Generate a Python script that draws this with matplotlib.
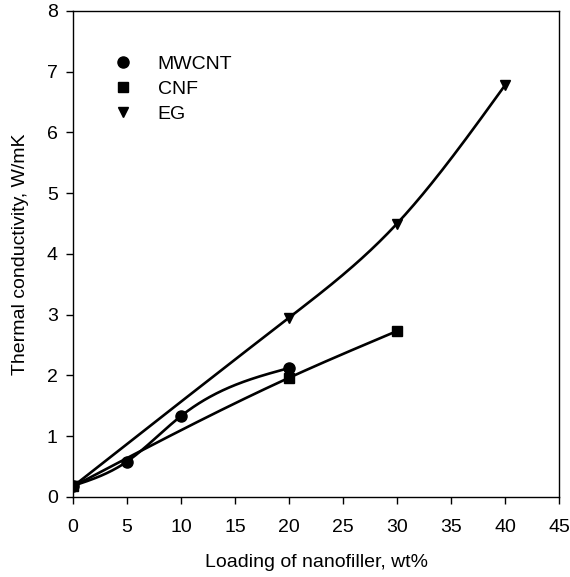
import numpy as np
import matplotlib
matplotlib.use("Agg")
import matplotlib.pyplot as plt

plt.rcParams['font.family'] = ['Liberation Sans', 'DejaVu Sans']

# data
mwcnt_x = [0, 5, 10, 20]
mwcnt_y = [0.18, 0.58, 1.33, 2.12]
cnf_x = [0, 20, 30]
cnf_y = [0.17, 1.96, 2.73]
eg_x = [0, 20, 30, 40]
eg_y = [0.17, 2.95, 4.50, 6.78]


def natural_spline(x, y, n=200):
    # plain natural cubic spline, only used to draw the smooth line
    x = np.asarray(x, float)
    y = np.asarray(y, float)
    k = len(x)
    h = np.diff(x)
    A = np.zeros((k, k))
    b = np.zeros(k)
    A[0, 0] = 1
    A[-1, -1] = 1
    for i in range(1, k - 1):
        A[i, i - 1] = h[i - 1]
        A[i, i] = 2 * (h[i - 1] + h[i])
        A[i, i + 1] = h[i]
        b[i] = 3 * ((y[i + 1] - y[i]) / h[i] - (y[i] - y[i - 1]) / h[i - 1])
    c = np.linalg.solve(A, b)
    xs = np.linspace(x[0], x[-1], n)
    ys = np.empty_like(xs)
    for j, xv in enumerate(xs):
        i = min(np.searchsorted(x, xv, side='right') - 1, k - 2)
        dx = xv - x[i]
        bi = (y[i + 1] - y[i]) / h[i] - h[i] * (2 * c[i] + c[i + 1]) / 3
        di = (c[i + 1] - c[i]) / (3 * h[i])
        ys[j] = y[i] + bi * dx + c[i] * dx ** 2 + di * dx ** 3
    return xs, ys


fig = plt.figure(figsize=(5.7, 5.77), dpi=100)
ax = fig.add_axes([0.128, 0.139, 0.853, 0.842])

for xs, ys, m, ms, lab in [(mwcnt_x, mwcnt_y, 'o', 8, 'MWCNT'),
                           (cnf_x, cnf_y, 's', 6.5, 'CNF'),
                           (eg_x, eg_y, 'v', 7.5, 'EG')]:
    sx, sy = natural_spline(xs, ys)
    ax.plot(sx, sy, color='black', linewidth=1.9)
    ax.plot(xs, ys, linestyle='none', marker=m, markersize=ms,
            color='black', label=lab)

ax.set_xlim(0, 45)
ax.set_ylim(0, 8)
ax.set_xticks(range(0, 46, 5))
ax.set_yticks(range(0, 9))
ax.tick_params(direction='out', length=5, width=1, labelsize=14, pad=6)
ax.tick_params(axis='x', pad=11)
for s in ax.spines.values():
    s.set_linewidth(1)

ax.set_xlabel('Loading of nanofiller, wt%', fontsize=14, labelpad=13)
ax.set_ylabel('Thermal conductivity, W/mK', fontsize=14, labelpad=13)

ax.legend(loc='upper left', bbox_to_anchor=(0.066, 0.924), frameon=False,
          fontsize=14, handlelength=1.0, handletextpad=1.3,
          labelspacing=0.38, borderaxespad=0)

fig.savefig('out.png', dpi=100)
